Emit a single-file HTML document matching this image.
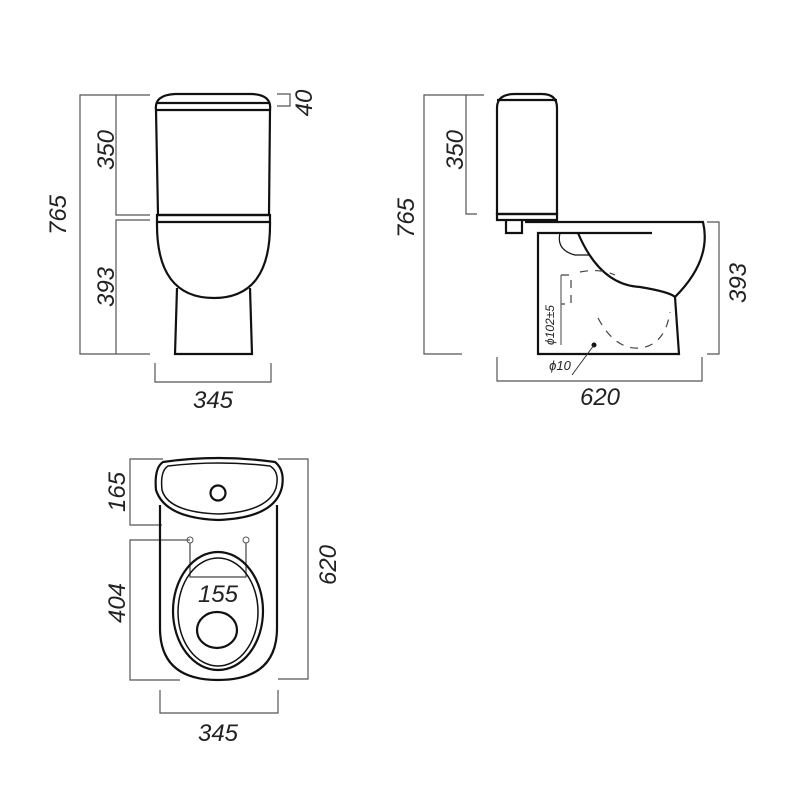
<!DOCTYPE html>
<html><head><style>body{margin:0;background:#fff}svg{display:block}text{font-family:"Liberation Sans",sans-serif;font-size:24px;font-style:italic;fill:#222;text-anchor:middle}</style></head>
<body>
<svg width="800" height="800" viewBox="0 0 800 800">
<g fill="none" stroke="#555" stroke-width="1.2">
<path d="M150 95H80V354H150M116 95V215H150M150 220H116V354M277 94H290V106H277M155 363V382H271V363"/>
<path d="M484 95H424V354H462M466 95V214H477M707 222H719V354H707M497 357V381H702V357"/>
<path d="M163 459H130V525H162M190 540H130V680H180M278 459H308V679H278M160 690V713H278V690"/>
<path d="M190 543V577H246V543" stroke="#444"/>
</g>
<g fill="none" stroke="#111" stroke-width="2.2">
<path d="M156 110Q154 95 175 94H252Q272 95 270 110Z"/>
<path d="M156 103H270"/>
<path d="M156 110L158 215H269L270 110"/>
<path d="M157 215H270V222H157Z"/>
<path d="M157 222Q156 298 214 298Q271 298 270 222"/>
<path d="M177 288L175 354H252L250 288"/>
<path d="M497 108Q497 94 515 94H542Q557 94 557 108V214H497Z"/>
<path d="M497 100H557"/>
<path d="M497 214H557V220H497Z"/>
<path d="M506 220V233H522V220M525 222H703Q712 260 675 297L679 354H538V233H652"/>
<path d="M578 233Q600 285 640 287Q670 292 675 297" />
<path d="M560 233Q556 250 575 255H590" stroke-width="1.2"/>
<path d="M163 462Q218 454 275 462Q285 470 282 487Q275 518 218 520Q165 518 156 490Q154 468 163 462Z"/>
<path d="M168 466Q218 460 270 466Q280 472 276 488Q268 512 218 514Q168 512 162 490Q160 471 168 466Z" stroke-width="1.5"/>
<circle cx="218" cy="493" r="7.5"/>
<path d="M160 505V628Q160 680 218 680Q277 680 277 628V505"/>
<ellipse cx="218" cy="611" rx="45" ry="59"/>
<ellipse cx="218" cy="612" rx="40" ry="54" stroke-width="1.5"/>
<ellipse cx="217" cy="630" rx="20" ry="18"/>
</g>
<g fill="none" stroke="#444" stroke-width="1.2" stroke-dasharray="8 7">
<path d="M561 275H571V304H561"/>
<path d="M580 272Q600 268 615 275"/>
<path d="M598 318Q615 350 640 348Q665 345 670 312"/>
</g>
<circle cx="190" cy="540" r="3" fill="none" stroke="#555"/>
<circle cx="246" cy="540" r="3" fill="none" stroke="#555"/>
<path d="M561 275V345" stroke="#444" stroke-width="1"/>
<circle cx="594" cy="345" r="2.5" fill="#111"/>
<path d="M594 345L572 375" stroke="#333"/>
<text transform="translate(66 215) rotate(-90)">765</text>
<text transform="translate(114 150) rotate(-90)">350</text>
<text transform="translate(114 287) rotate(-90)">393</text>
<text transform="translate(312 103) rotate(-90)">40</text>
<text x="213" y="408">345</text>
<text transform="translate(414 218) rotate(-90)">765</text>
<text transform="translate(463 150) rotate(-90)">350</text>
<text transform="translate(746 283) rotate(-90)">393</text>
<text x="600" y="405">620</text>
<text transform="translate(554 325) rotate(-90)" style="font-size:12px">ϕ102±5</text>
<text x="560" y="370" style="font-size:13px">ϕ10</text>
<text transform="translate(125 492) rotate(-90)">165</text>
<text transform="translate(125 603) rotate(-90)">404</text>
<text transform="translate(336 565) rotate(-90)">620</text>
<text x="218" y="602">155</text>
<text x="218" y="741">345</text>
</svg>
</body></html>
